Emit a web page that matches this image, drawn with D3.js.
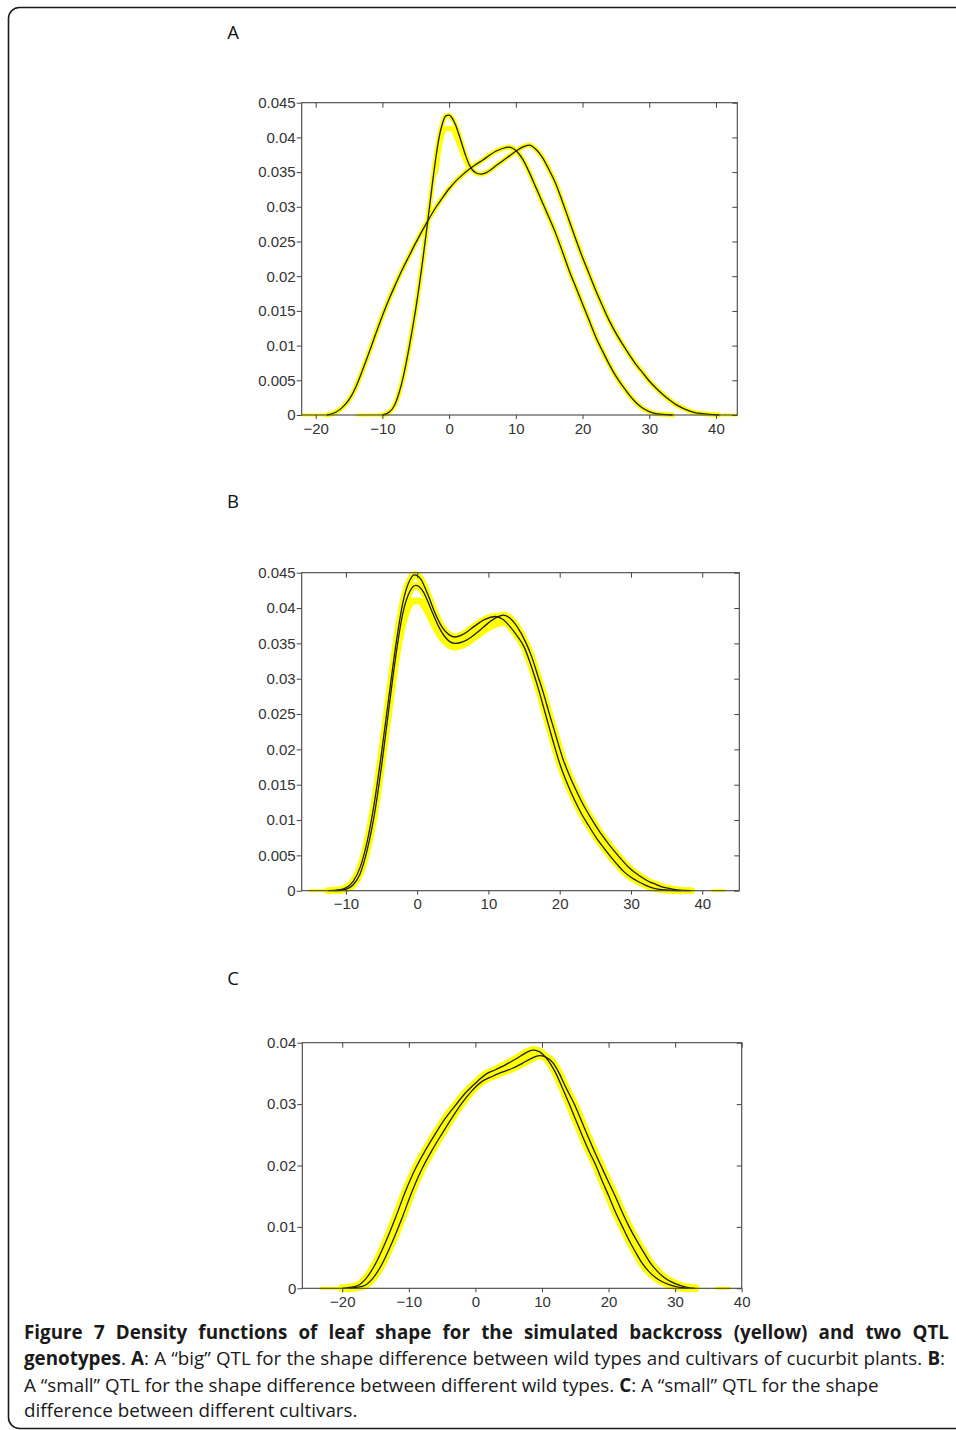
<!DOCTYPE html>
<html>
<head>
<meta charset="utf-8">
<script src="https://cdn.jsdelivr.net/npm/d3@7"></script>
<style>
  body { margin: 0; background: #fff; }
  svg { display: block; }
</style>
</head>
<body>
<div id="main"></div>
<script>
// ---- data: [x, density] ----

// panel A: "big" QTL
var aBroad = [[-18.3,0],[-17,0.0004],[-16,0.0011],[-15,0.0022],[-14,0.0040],[-13,0.0064],[-12,0.0090],[-11,0.0117],
  [-10,0.0143],[-9,0.0167],[-8,0.0189],[-7,0.0210],[-6,0.0229],[-5,0.0248],[-4,0.0266],[-3,0.0283],[-2,0.0299],
  [-1,0.0313],[0,0.0326],[1,0.0337],[2,0.0346],[3,0.0354],[4,0.0361],[5,0.0367],[6,0.0374],[7,0.0380],[8,0.0384],
  [9,0.0386],[10,0.0381],[11,0.0369],[12,0.0350],[13,0.0328],[14,0.0306],[15,0.0284],[16,0.0261],[17,0.0235],
  [18,0.0208],[19,0.0184],[20,0.0160],[21,0.0136],[22,0.0112],[23,0.0092],[24,0.0073],[25,0.0056],[26,0.0042],
  [27,0.0029],[28,0.0018],[29,0.0010],[30,0.0005],[31,0.0002],[32,0.0001],[33.5,0]];
var aPeak = [[-10,0],[-9,0.0004],[-8.5,0.0009],[-8,0.0018],[-7.5,0.0032],[-7,0.0050],[-6.5,0.0072],[-6,0.0097],
  [-5.5,0.0124],[-5,0.0153],[-4.5,0.0185],[-4,0.0220],[-3.5,0.0257],[-3,0.0295],[-2.5,0.0334],[-2,0.0370],
  [-1.5,0.0400],[-1,0.0420],[-0.5,0.0431],[0,0.0432],[0.5,0.0427],[1,0.0417],[1.5,0.0403],[2,0.0388],[2.5,0.0373],
  [3,0.0361],[3.5,0.0353],[4,0.0349],[4.7,0.0347],[5.5,0.0349],[6.2,0.0353],[7,0.0359],[8,0.0366],[9,0.0373],
  [10,0.0380],[11,0.0386],[12,0.0389],[13,0.0383],[14,0.0371],[15,0.0353],[16,0.0333],[17,0.0307],[18,0.0280],
  [19,0.0253],[20,0.0227],[21,0.0203],[22,0.0179],[23,0.0157],[24,0.0136],[25,0.0118],[26,0.0102],[27,0.0087],
  [28,0.0073],[29,0.0061],[30,0.0049],[31,0.0039],[32,0.0030],[33,0.0022],[34,0.0015],[35,0.0010],[36,0.0006],
  [37,0.0003],[38,0.0002],[39,0.0001],[40.5,0]];
var aSimLow = [[-2,0.0350],[-1.3,0.0395],[-0.5,0.0413],[0.3,0.0413],[1.2,0.0398],[2,0.0378],[2.8,0.0360]];
var aBaseYellow = [[-22.1,-18.3],[-13.9,-9.9],[41,43.2]];

// panel B: "small" QTL, wild types
var bCurve1 = [[-12.5,0],[-11,0.0001],[-10,0.0004],[-9,0.0013],[-8,0.0033],[-7,0.0070],[-6,0.0125],[-5,0.0195],
  [-4,0.0272],[-3,0.0347],[-2,0.0408],[-1,0.0440],[-0.4,0.0447],[0.5,0.0441],[1.5,0.0419],[2.5,0.0393],
  [3.5,0.0373],[4.5,0.0362],[5.3,0.0359],[6.5,0.0363],[8,0.0374],[9.5,0.0384],[11,0.0388],[12,0.0384],[13,0.0374],
  [14,0.0361],[15,0.0345],[16,0.0318],[17,0.0286],[18,0.0250],[19,0.0214],[20,0.0180],[21,0.0153],[22,0.0130],
  [23,0.0110],[24,0.0093],[25,0.0077],[26,0.0063],[27,0.0050],[28,0.0038],[29,0.0027],[30,0.0019],[31,0.0013],
  [32,0.0008],[33,0.0004],[34,0.0002],[35,0.0001],[37,0]];
var bCurve2 = [[-11.5,0],[-10.5,0.0001],[-10,0.0002],[-9,0.0008],[-8,0.0024],[-7,0.0058],[-6,0.0108],[-5,0.0176],
  [-4,0.0255],[-3,0.0332],[-2,0.0393],[-1,0.0424],[-0.2,0.0432],[0.8,0.0424],[2,0.0397],[3,0.0374],[4,0.0358],
  [5.3,0.0350],[7,0.0355],[8.5,0.0366],[10,0.0379],[11,0.0386],[12.1,0.0390],[13,0.0386],[14,0.0374],[15.3,0.0350],
  [16,0.0333],[17,0.0302],[17.7,0.0280],[18.5,0.0252],[19.5,0.0218],[20.4,0.0188],[21.5,0.0160],[22.5,0.0138],
  [23.5,0.0118],[24.5,0.0101],[25.5,0.0085],[26.5,0.0071],[27.5,0.0058],[28.5,0.0046],[29.5,0.0035],[30.5,0.0026],
  [31.5,0.0019],[32.5,0.0013],[33.5,0.0009],[34.5,0.0005],[35.5,0.0003],[36.5,0.0001],[38.5,0]];
var bSimLow = [[-4.5,0.0215],[-3.5,0.0290],[-2.5,0.0355],[-1.5,0.0395],[-0.6,0.0410],[0.3,0.0410],[1.3,0.0398],
  [2.3,0.0378],[3.3,0.0360],[4.3,0.0349],[5.3,0.0345],[6.5,0.0348],[8,0.0358],[9.5,0.0369],[11,0.0377],
  [12.3,0.0380],[13.3,0.0374],[14.3,0.0358]];
var bBaseYellow = [[-15.2,-12.4],[41.3,43.2]];

// panel C: "small" QTL, cultivars
var cCurve1 = [[-20,0],[-18,0.0003],[-16.5,0.0015],[-15,0.0040],[-13.5,0.0075],[-12,0.0115],[-10.5,0.0158],
  [-9,0.0195],[-7.5,0.0225],[-6,0.0252],[-4.5,0.0277],[-3,0.0298],[-1.5,0.0318],[0,0.0334],[1.5,0.0348],[3,0.0356],
  [4.5,0.0364],[6,0.0373],[7.5,0.0383],[8.6,0.0388],[9.5,0.0386],[10.5,0.0377],[11.25,0.0366],[12,0.0352],
  [13,0.0328],[14.1,0.0300],[15,0.0276],[16,0.0250],[17,0.0225],[18.1,0.0200],[19,0.0176],[20,0.0151],[21,0.0125],
  [22.1,0.0100],[23,0.0080],[24,0.0060],[25.1,0.0040],[26,0.0028],[27,0.0018],[28,0.0011],[29.1,0.0006],
  [30,0.0003],[31,0.0001],[32,0]];
var cCurve2 = [[-19,0],[-17,0.0003],[-15.5,0.0015],[-14,0.0040],[-12.5,0.0075],[-11,0.0115],[-9.5,0.0158],
  [-8,0.0195],[-6.5,0.0225],[-5,0.0252],[-3.5,0.0278],[-2,0.0302],[-0.5,0.0322],[1,0.0337],[2.5,0.0345],[4,0.0352],
  [5.5,0.0358],[7,0.0366],[8.5,0.0375],[9.6,0.0379],[10.5,0.0377],[11.75,0.0366],[12.5,0.0352],[13.5,0.0329],
  [14.85,0.0300],[15.8,0.0276],[16.8,0.0250],[17.8,0.0225],[18.85,0.0200],[19.9,0.0175],[21,0.0150],[22,0.0125],
  [23.1,0.0100],[24.1,0.0080],[25.2,0.0060],[26.35,0.0040],[27.3,0.0028],[28.3,0.0018],[29.5,0.0010],
  [30.6,0.0005],[31.6,0.0002],[33,0]];
var cBaseYellow = [[-23.4,-20.4],[36.1,38.3]];

// ticks
var xTicksA = [-20,-10,0,10,20,30,40];
var xTicksB = [-10,0,10,20,30,40];
var xTicksC = [-20,-10,0,10,20,30,40];
var yTicksAB = [0,0.005,0.01,0.015,0.02,0.025,0.03,0.035,0.04,0.045];
var yTicksC = [0,0.01,0.02,0.03,0.04];

var panelLabels = ["A","B","C"];

var width = 956, height = 1430;
var yellow = "#ffff00", black = "#1e1e1e";

var svg = d3.select("#main")
  .append("svg")
    .attr("width", width)
    .attr("height", height);

// frame round the figure
svg.append("rect")
  .attr("x", 8.5).attr("y", 7.5)
  .attr("width", 1000).attr("height", 1421)
  .attr("rx", 11)
  .attr("fill", "none")
  .attr("stroke", "#1a1a1a")
  .attr("stroke-width", 1.6);

function drawPanel(p) {
  var g = svg.append("g");
  var x = d3.scaleLinear().domain(p.xDomain).range([p.left, p.right]);
  var y = d3.scaleLinear().domain([0, p.yMax]).range([p.bottom, p.top]);
  var line = d3.line()
    .x(function(d) { return x(d[0]); })
    .y(function(d) { return y(d[1]); })
    .curve(d3.curveMonotoneX);

  // simulated backcross (yellow)
  g.selectAll(".base")
    .data(p.baseYellow)
    .enter().append("line")
      .attr("x1", function(d) { return x(d[0]); })
      .attr("x2", function(d) { return x(d[1]); })
      .attr("y1", y(0)).attr("y2", y(0))
      .attr("stroke", yellow)
      .attr("stroke-width", 3);

  p.sims.concat(p.curves).forEach(function(s) {
    g.append("path")
      .attr("d", line(s))
      .attr("fill", "none")
      .attr("stroke", yellow)
      .attr("stroke-width", p.band)
      .attr("stroke-linecap", "round")
      .attr("stroke-linejoin", "round");
  });

  // QTL genotypes (black)
  p.curves.forEach(function(c) {
    g.append("path")
      .attr("d", line(c))
      .attr("fill", "none")
      .attr("stroke", black)
      .attr("stroke-width", 1.3);
  });

  // axes: labelled ticks outside on left/bottom, plain ticks inside on top/right
  var left = g.append("g")
    .attr("transform", "translate(" + p.left + ",0)")
    .call(d3.axisLeft(y).tickValues(p.yTicks).tickSize(5).tickSizeOuter(0).tickPadding(1)
      .tickFormat(function(d) { return String(d); }));
  var right = g.append("g")
    .attr("transform", "translate(" + p.right + ",0)")
    .call(d3.axisLeft(y).tickValues(p.yTicks).tickSize(5).tickSizeOuter(0).tickFormat(""));
  var top = g.append("g")
    .attr("transform", "translate(0," + p.top + ")")
    .call(d3.axisBottom(x).tickValues(p.xTicks).tickSize(5).tickSizeOuter(0).tickFormat(""));
  var bottom = g.append("g")
    .attr("transform", "translate(0," + p.bottom + ")")
    .call(d3.axisBottom(x).tickValues(p.xTicks).tickSize(4).tickSizeOuter(0).tickPadding(4)
      .tickFormat(d3.format("d")));

  [left, right, top, bottom].forEach(function(a) {
    a.select(".domain").remove();
    a.selectAll("line").attr("stroke", "#444");
    a.selectAll("text")
      .attr("fill", "#333")
      .style("font-family", "'Liberation Sans', Arial, sans-serif")
      .style("font-size", "15px");
  });

  g.append("rect")
    .attr("x", p.left).attr("y", p.top)
    .attr("width", p.right - p.left)
    .attr("height", p.bottom - p.top)
    .attr("fill", "none")
    .attr("stroke", "#444")
    .attr("stroke-width", 1.1);

  svg.append("text")
    .attr("x", 233)
    .attr("y", p.labelY)
    .attr("text-anchor", "middle")
    .style("font-family", "'Open Sans', sans-serif")
    .style("font-size", "18.5px")
    .attr("fill", "#111")
    .text(p.label);
}

drawPanel({ label: panelLabels[0], labelY: 39.3, left: 301.7, right: 737.3, top: 102.7, bottom: 415,
  xDomain: [-22.1, 43.2], yMax: 0.045, xTicks: xTicksA, yTicks: yTicksAB,
  curves: [aBroad, aPeak], sims: [aSimLow], baseYellow: aBaseYellow, band: 5 });
drawPanel({ label: panelLabels[1], labelY: 508, left: 301.7, right: 739.3, top: 572.7, bottom: 890.7,
  xDomain: [-16.2, 45.2], yMax: 0.045, xTicks: xTicksB, yTicks: yTicksAB,
  curves: [bCurve1, bCurve2], sims: [bSimLow], baseYellow: bBaseYellow, band: 7 });
drawPanel({ label: panelLabels[2], labelY: 985, left: 302.3, right: 741.7, top: 1042.7, bottom: 1288.3,
  xDomain: [-26, 40], yMax: 0.04, xTicks: xTicksC, yTicks: yTicksC,
  curves: [cCurve1, cCurve2], sims: [], baseYellow: cBaseYellow, band: 8 });

// caption
var captionLines = [
  [["Figure 7 Density functions of leaf shape for the simulated backcross (yellow) and two QTL", true]],
  [["genotypes", true], [". ", false], ["A", true],
   [": A \u201cbig\u201d QTL for the shape difference between wild types and cultivars of cucurbit plants. ", false],
   ["B", true], [":", false]],
  [["A \u201csmall\u201d QTL for the shape difference between different wild types. ", false], ["C", true],
   [": A \u201csmall\u201d QTL for the shape", false]],
  [["difference between different cultivars.", false]]
];
var captionRight = [949, 945, null, null];
var captionY = [1339, 1365.3, 1391.5, 1417];

function captionText(parts, fs, y) {
  var t = svg.append("text")
    .attr("x", 24).attr("y", y)
    .attr("fill", "#1a1a1a")
    .style("font-family", "'Open Sans', sans-serif")
    .style("font-size", fs + "px")
    .style("white-space", "pre");
  parts.forEach(function(s) {
    t.append("tspan").attr("font-weight", s[1] ? "bold" : "normal").text(s[0]);
  });
  return t;
}

// fit the font size on line 3, whose right end is known (x = 879)
var probe = captionText(captionLines[2], 17, -100);
var fs = 17 * 855 / probe.node().getComputedTextLength();
probe.remove();

captionLines.forEach(function(parts, i) {
  var t = captionText(parts, fs, captionY[i]);
  if (captionRight[i]) {
    var w = t.node().getComputedTextLength();
    var spaces = parts.map(function(s) { return s[0]; }).join("").split(" ").length - 1;
    t.style("word-spacing", ((captionRight[i] - 24 - w) / spaces) + "px");
  }
});
</script>
</body>
</html>
